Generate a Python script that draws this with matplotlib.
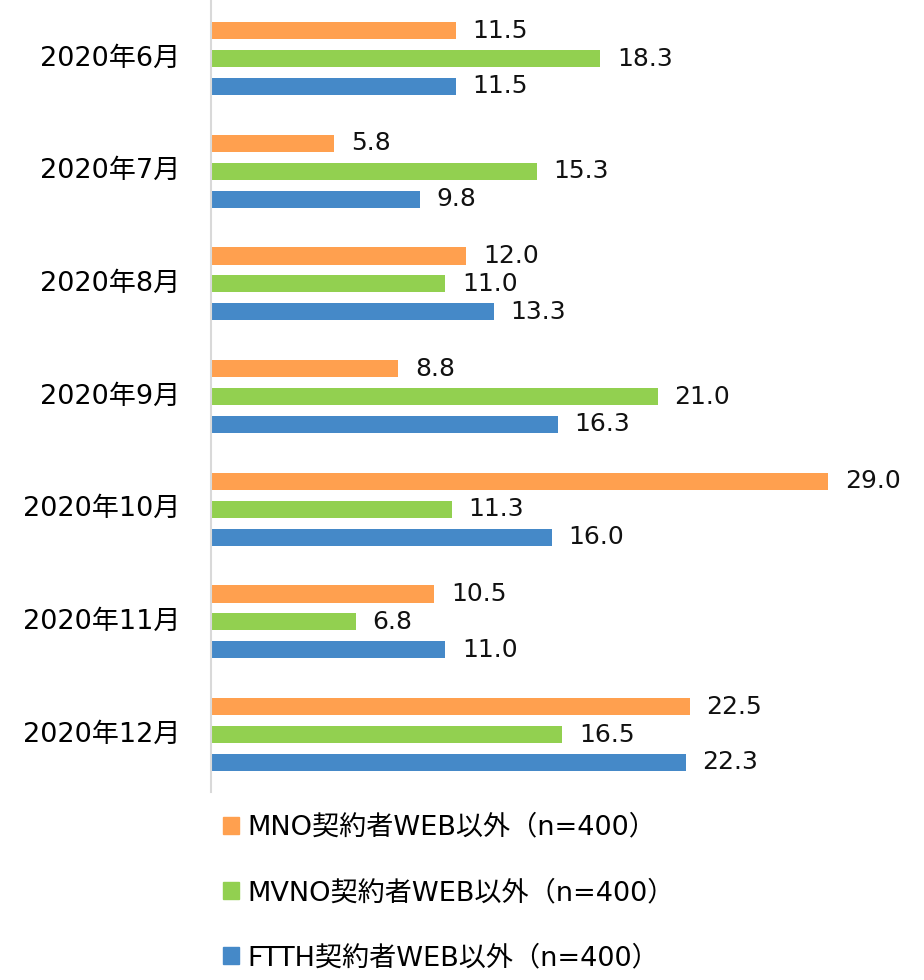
import matplotlib.pyplot as plt
import numpy as np
from matplotlib.patches import Patch

plt.rcParams['font.family'] = ['DejaVu Sans', 'Noto Sans CJK JP']

months = ['2020年6月', '2020年7月', '2020年8月', '2020年9月', '2020年10月', '2020年11月', '2020年12月']
mno = [11.5, 5.8, 12.0, 8.8, 29.0, 10.5, 22.5]
mvno = [18.3, 15.3, 11.0, 21.0, 11.3, 6.8, 16.5]
ftth = [11.5, 9.8, 13.3, 16.3, 16.0, 11.0, 22.3]
series_names = ['MNO契約者WEB以外（n=400）', 'MVNO契約者WEB以外（n=400）', 'FTTH契約者WEB以外（n=400）']
colors = ['#FFA04F', '#92D050', '#4589C8']

fig = plt.figure(figsize=(9.24, 9.8), dpi=100)
ax = fig.add_axes([211 / 924, 188 / 980, 713 / 924, 792 / 980])

y = np.arange(len(months))
offsets = [-0.2476, 0.0, 0.2476]
h = 0.152
for vals, off, c in zip([mno, mvno, ftth], offsets, colors):
    bars = ax.barh(y + off, vals, height=h, color=c)
    for b, v in zip(bars, vals):
        ax.annotate(f'{v:.1f}', (b.get_width(), b.get_y() + b.get_height() / 2),
                    xytext=(12, 0), textcoords='offset points',
                    va='center', ha='left', fontsize=18, color='#111111')

ax.set_ylim(6.51, -0.52)
ax.set_xlim(0, 33.5)
ax.set_yticks(y)
ax.set_yticklabels(months, fontsize=19.5, va='center')
ax.tick_params(axis='y', length=0, pad=22)
ax.set_xticks([])
for s in ['top', 'right', 'bottom']:
    ax.spines[s].set_visible(False)
ax.spines['left'].set_color('#d9d9d9')
ax.spines['left'].set_linewidth(1.5)

handles = [Patch(color=c) for c in colors]
fig.legend(handles, series_names, loc='upper left', bbox_to_anchor=(212 / 924, 1 - 804 / 980),
           frameon=False, fontsize=19.5, labelspacing=1.45, handlelength=0.6, handleheight=0.6,
           handletextpad=0.3, borderaxespad=0)

plt.savefig('out.png', dpi=100)
